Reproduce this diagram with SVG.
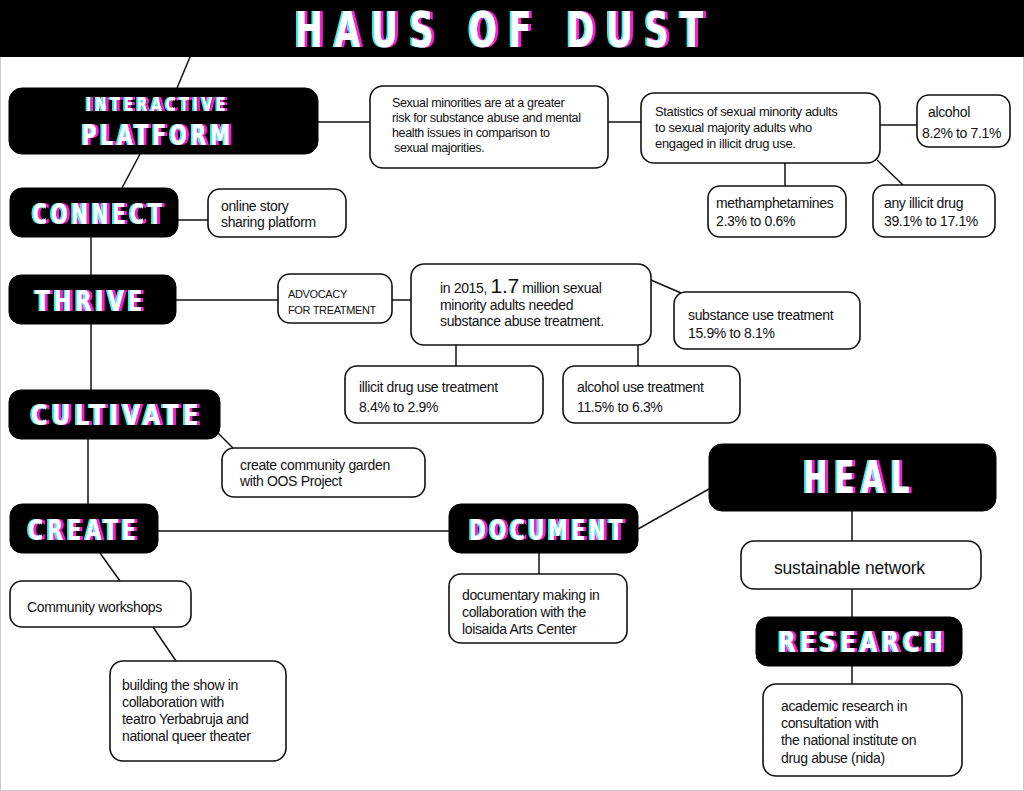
<svg xmlns="http://www.w3.org/2000/svg" width="1024" height="791" viewBox="0 0 1024 791">
<defs>
<filter id="glitch" x="-10%" y="-30%" width="120%" height="160%">
<feOffset in="SourceAlpha" dx="2.5" dy="0" result="o1"/>
<feFlood flood-color="#ff1fd8"/>
<feComposite in2="o1" operator="in" result="m"/>
<feOffset in="SourceAlpha" dx="-2" dy="0" result="o2"/>
<feFlood flood-color="#2ff3f3"/>
<feComposite in2="o2" operator="in" result="c"/>
<feMerge><feMergeNode in="m"/><feMergeNode in="c"/><feMergeNode in="SourceGraphic"/></feMerge>
</filter>
</defs>
<style>
.bg{fill:#ffffff}
.bar{fill:#000000}
.blk{fill:#000000;stroke:#000000;stroke-width:1}
.box{fill:#ffffff;stroke:#111111;stroke-width:1.6}
.ln{stroke:#111111;stroke-width:1.5;fill:none}
.t{font-family:"Liberation Sans",Arial,sans-serif;font-size:12.5px;fill:#111111;letter-spacing:-0.35px}
.ts{font-size:11px}
.tb{font-size:14px}
.g{font-family:"DejaVu Sans",sans-serif;font-weight:bold;font-stretch:condensed;text-anchor:middle;fill:#ffffff;letter-spacing:5px;filter:url(#glitch)}
</style>
<rect class="bg" x="0" y="0" width="1024" height="791"/>
<rect x="0.5" y="0.5" width="1023" height="790" fill="none" stroke="#cccccc" stroke-width="1"/>
<g id="title">
<rect class="bar" x="0" y="0" width="1024" height="57"/>
<text class="g" x="505" y="47" font-size="50" style="letter-spacing:16px" textLength="420" lengthAdjust="spacingAndGlyphs">HAUS OF DUST</text>
</g>
<g id="connectors">
<line class="ln" x1="190" y1="57" x2="177" y2="88"/>
<line class="ln" x1="318" y1="122" x2="370" y2="122"/>
<line class="ln" x1="608" y1="122" x2="641" y2="122"/>
<line class="ln" x1="880" y1="125" x2="917" y2="125"/>
<line class="ln" x1="785" y1="163" x2="785" y2="186"/>
<line class="ln" x1="877" y1="160" x2="903" y2="185"/>
<line class="ln" x1="140" y1="154" x2="122" y2="188"/>
<line class="ln" x1="178" y1="220" x2="208" y2="220"/>
<line class="ln" x1="91" y1="237" x2="91" y2="275"/>
<line class="ln" x1="176" y1="300" x2="278" y2="300"/>
<line class="ln" x1="392" y1="300" x2="411" y2="300"/>
<line class="ln" x1="651" y1="280" x2="681" y2="293"/>
<line class="ln" x1="456" y1="345" x2="456" y2="366"/>
<line class="ln" x1="638" y1="345" x2="638" y2="366"/>
<line class="ln" x1="91" y1="324" x2="91" y2="390"/>
<line class="ln" x1="218" y1="433" x2="233" y2="448"/>
<line class="ln" x1="88" y1="439" x2="88" y2="504"/>
<line class="ln" x1="158" y1="531" x2="449" y2="531"/>
<line class="ln" x1="638" y1="529" x2="709" y2="489"/>
<line class="ln" x1="852" y1="511" x2="852" y2="541"/>
<line class="ln" x1="852" y1="589" x2="852" y2="617"/>
<line class="ln" x1="852" y1="666" x2="852" y2="684"/>
<line class="ln" x1="539" y1="553" x2="539" y2="574"/>
<line class="ln" x1="100" y1="553" x2="120" y2="581"/>
<line class="ln" x1="153" y1="627" x2="176" y2="661"/>
</g>
<g id="interactive-platform">
<rect class="blk" x="9" y="88" width="309" height="66" rx="13"/>
<text class="g" x="158" y="111" font-size="19" textLength="143" lengthAdjust="spacingAndGlyphs">INTERACTIVE</text>
<text class="g" x="158" y="145" font-size="28" textLength="152" lengthAdjust="spacingAndGlyphs">PLATFORM</text>
</g>
<g id="sexual-minorities">
<rect class="box" x="370" y="86" width="238" height="82" rx="13"/>
<text class="t" x="392" y="107">Sexual minorities are at a greater</text>
<text class="t" x="392" y="122">risk for substance abuse and mental</text>
<text class="t" x="392" y="137">health issues in comparison to</text>
<text class="t" x="394" y="152">sexual majorities.</text>
</g>
<g id="statistics">
<rect class="box" x="641" y="93" width="239" height="70" rx="13"/>
<text class="t" x="655" y="116" style="font-size:13px">Statistics of sexual minority adults</text>
<text class="t" x="655" y="132" style="font-size:13px">to sexual majority adults who</text>
<text class="t" x="655" y="148" style="font-size:13px">engaged in illicit drug use.</text>
</g>
<g id="alcohol">
<rect class="box" x="917" y="95" width="93" height="52" rx="12"/>
<text class="t tb" x="928" y="117">alcohol</text>
<text class="t tb" x="922" y="138">8.2% to 7.1%</text>
</g>
<g id="methamphetamines">
<rect class="box" x="708" y="186" width="138" height="51" rx="12"/>
<text class="t tb" x="716" y="208">methamphetamines</text>
<text class="t tb" x="716" y="226">2.3% to 0.6%</text>
</g>
<g id="any-illicit-drug">
<rect class="box" x="873" y="185" width="122" height="52" rx="12"/>
<text class="t tb" x="884" y="208">any illicit drug</text>
<text class="t tb" x="884" y="226">39.1% to 17.1%</text>
</g>
<g id="connect">
<rect class="blk" x="10" y="188" width="168" height="49" rx="12"/>
<text class="g" x="99" y="224" font-size="28" textLength="133" lengthAdjust="spacingAndGlyphs">CONNECT</text>
</g>
<g id="online-story">
<rect class="box" x="208" y="189" width="138" height="48" rx="12"/>
<text class="t tb" x="221" y="211">online story</text>
<text class="t tb" x="221" y="227">sharing platform</text>
</g>
<g id="thrive">
<rect class="blk" x="9" y="275" width="167" height="49" rx="12"/>
<text class="g" x="91" y="311" font-size="28" textLength="111" lengthAdjust="spacingAndGlyphs">THRIVE</text>
</g>
<g id="advocacy">
<rect class="box" x="278" y="274" width="114" height="49" rx="12"/>
<text class="t ts" x="288" y="298">ADVOCACY</text>
<text class="t ts" x="288" y="314">FOR TREATMENT</text>
</g>
<g id="in-2015">
<rect class="box" x="411" y="264" width="240" height="81" rx="13"/>
<text class="t tb" x="440" y="293">in 2015, <tspan style="font-size:21px">1.7</tspan> million sexual</text>
<text class="t tb" x="440" y="310">minority adults needed</text>
<text class="t tb" x="440" y="326">substance abuse treatment.</text>
</g>
<g id="substance-use">
<rect class="box" x="674" y="292" width="186" height="57" rx="12"/>
<text class="t tb" x="688" y="320">substance use treatment</text>
<text class="t tb" x="688" y="338">15.9% to 8.1%</text>
</g>
<g id="illicit-drug-use">
<rect class="box" x="345" y="366" width="198" height="57" rx="12"/>
<text class="t tb" x="359" y="392">illicit drug use treatment</text>
<text class="t tb" x="359" y="412">8.4% to 2.9%</text>
</g>
<g id="alcohol-use">
<rect class="box" x="563" y="366" width="177" height="57" rx="12"/>
<text class="t tb" x="577" y="392">alcohol use treatment</text>
<text class="t tb" x="577" y="412">11.5% to 6.3%</text>
</g>
<g id="cultivate">
<rect class="blk" x="9" y="390" width="211" height="49" rx="12"/>
<text class="g" x="117" y="425" font-size="28" textLength="172" lengthAdjust="spacingAndGlyphs">CULTIVATE</text>
</g>
<g id="community-garden">
<rect class="box" x="222" y="448" width="203" height="49" rx="12"/>
<text class="t tb" x="240" y="470">create community garden</text>
<text class="t tb" x="240" y="486">with OOS Project</text>
</g>
<g id="create">
<rect class="blk" x="10" y="504" width="148" height="49" rx="12"/>
<text class="g" x="84" y="540" font-size="28" textLength="112" lengthAdjust="spacingAndGlyphs">CREATE</text>
</g>
<g id="document">
<rect class="blk" x="449" y="504" width="189" height="49" rx="12"/>
<text class="g" x="548" y="540" font-size="28" textLength="157" lengthAdjust="spacingAndGlyphs">DOCUMENT</text>
</g>
<g id="heal">
<rect class="blk" x="709" y="444" width="287" height="67" rx="13"/>
<text class="g" x="860" y="493" font-size="45" style="letter-spacing:10px" textLength="113" lengthAdjust="spacingAndGlyphs">HEAL</text>
</g>
<g id="sustainable-network">
<rect class="box" x="741" y="541" width="240" height="48" rx="13"/>
<text class="t" x="774" y="574" style="font-size:17.5px;letter-spacing:-0.2px">sustainable network</text>
</g>
<g id="research">
<rect class="blk" x="756" y="617" width="206" height="49" rx="12"/>
<text class="g" x="863" y="652" font-size="28" textLength="169" lengthAdjust="spacingAndGlyphs">RESEARCH</text>
</g>
<g id="academic-research">
<rect class="box" x="763" y="684" width="199" height="92" rx="13"/>
<text class="t tb" x="781" y="711">academic research in</text>
<text class="t tb" x="781" y="728">consultation with</text>
<text class="t tb" x="781" y="745">the national institute on</text>
<text class="t tb" x="781" y="763">drug abuse (nida)</text>
</g>
<g id="documentary">
<rect class="box" x="449" y="574" width="178" height="69" rx="12"/>
<text class="t tb" x="462" y="600">documentary making in</text>
<text class="t tb" x="462" y="617">collaboration with the</text>
<text class="t tb" x="462" y="634">loisaida Arts Center</text>
</g>
<g id="community-workshops">
<rect class="box" x="10" y="581" width="181" height="46" rx="12"/>
<text class="t tb" x="27" y="612">Community workshops</text>
</g>
<g id="building-the-show">
<rect class="box" x="110" y="661" width="176" height="100" rx="13"/>
<text class="t tb" x="122" y="690">building the show in</text>
<text class="t tb" x="122" y="707">collaboration with</text>
<text class="t tb" x="122" y="724">teatro Yerbabruja and</text>
<text class="t tb" x="122" y="741">national queer theater</text>
</g>
</svg>
